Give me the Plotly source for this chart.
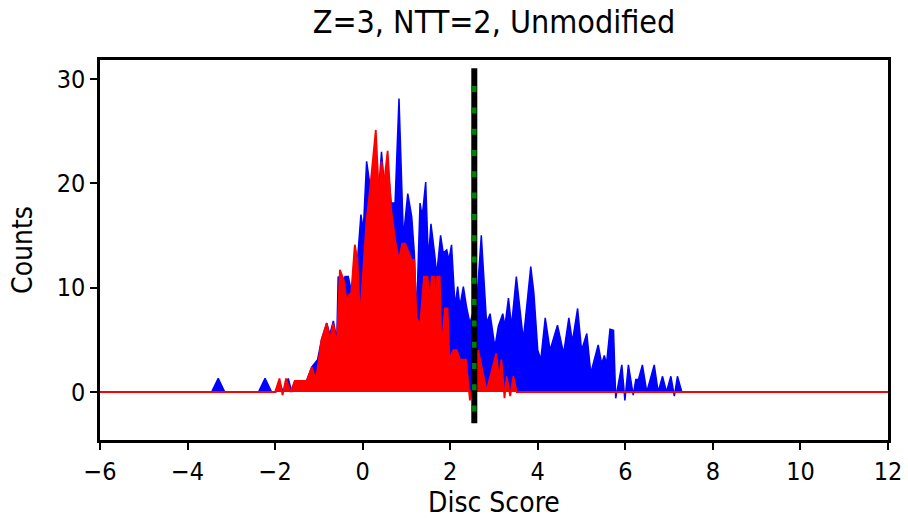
import plotly.graph_objects as go

# Disc score vertices (bin centres) and counts for the two distributions
blue_score = [-6.0, -3.45, -3.30, -3.15, -2.38, -2.23, -2.08, -1.98, -1.90, -1.82, -1.70, -1.62,
              -1.55, -1.42, -1.36, -1.28, -1.16, -1.03, -0.94, -0.82, -0.75, -0.67, -0.59, -0.56,
              -0.48, -0.40, -0.33, -0.25, -0.18, -0.12, -0.04, 0.015, 0.09, 0.17, 0.21, 0.30,
              0.38, 0.43, 0.49, 0.57, 0.65, 0.74, 0.83, 0.93, 1.03, 1.12, 1.18, 1.23, 1.31, 1.36,
              1.44, 1.50, 1.56, 1.65, 1.69, 1.78, 1.84, 1.92, 1.97, 2.03, 2.11, 2.17, 2.22, 2.30,
              2.37, 2.45, 2.55, 2.63, 2.71, 2.83, 2.91, 3.02, 3.10, 3.20, 3.25, 3.33, 3.40, 3.51,
              3.67, 3.84, 3.91, 4.00, 4.07, 4.17, 4.28, 4.45, 4.59, 4.71, 4.79, 4.91, 5.00, 5.12,
              5.21, 5.38, 5.46, 5.52, 5.57, 5.65, 5.73, 5.78, 5.92, 5.99, 6.07, 6.18, 6.24, 6.30,
              6.39, 6.49, 6.66, 6.75, 6.85, 6.94, 7.04, 7.12, 7.19, 7.29, 12.0]
blue_count = [0, 0, 1.3, 0, 0, 1.3, 0, 0, 1.0, 0, 1.3, 0,
              1.05, 1.05, 0.2, 1.05, 2.4, 3.1, 5.0, 6.6, 5.5, 6.8, 5.0, 11.05,
              10.5, 11.05, 11.05, 9.5, 13.5, 12.5, 17.0, 15.5, 22.1, 19.7, 18.1, 20.0,
              20.0, 23.0, 20.0, 22.0, 18.1, 18.1, 28.1, 14.8, 19.0, 16.8, 13.3, 7.2, 18.1, 16.8,
              20.1, 12.65, 16.1, 13.0, 11.2, 15.0, 13.3, 13.6, 12.65, 14.1, 8.2, 10.1, 8.2, 10.1,
              8.2, 6.6, 8.0, 10.0, 15.0, 6.6, 7.5, 4.3, 6.3, 7.5, 6.3, 9.0, 6.3, 11.05,
              5.0, 12.0, 9.5, 4.0, 3.1, 7.1, 4.0, 6.4, 3.7, 7.1, 4.8, 8.0, 4.0, 5.6,
              1.8, 4.5, 2.7, 3.5, 2.7, 6.0, 5.9, -0.6, 2.6, -0.8, 2.6, -0.3, 1.2, 1.2,
              2.6, 0, 2.6, 0, 1.5, 0, 1.5, -0.4, 1.5, 0, 0]

red_score = [-6.0, -2.00, -1.90, -1.83, -1.75, -1.65, -1.55, -1.28, -1.16, -1.07, -0.94, -0.82,
             -0.75, -0.67, -0.59, -0.52, -0.43, -0.37, -0.31, -0.26, -0.18, -0.12, -0.06, 0.09,
             0.17, 0.30, 0.38, 0.43, 0.49, 0.57, 0.65, 0.74, 0.83, 0.90, 0.97, 1.12, 1.18, 1.23,
             1.31, 1.40, 1.48, 1.53, 1.58, 1.63, 1.66, 1.70, 1.76, 1.80, 1.88, 1.94, 1.98, 2.07,
             2.15, 2.22, 2.36, 2.45, 2.55, 2.64, 2.83, 3.05, 3.12, 3.17, 3.24, 3.29, 3.37, 3.44,
             3.52, 12.0]
red_count = [0, 0, 1.3, -0.3, 1.3, 0, 1.05, 1.05, 2.4, 1.1, 5.0, 6.6,
             5.0, 6.6, 4.3, 11.7, 10.7, 8.8, 9.3, 9.5, 14.1, 12.7, 7.1, 16.5,
             19.5, 25.1, 18.1, 22.1, 20.0, 23.1, 17.5, 14.6, 12.6, 14.2, 14.2, 12.65, 12.65, 7.2,
             6.3, 11.05, 11.05, 8.8, 11.05, 11.05, 8.2, 11.05, 11.05, 4.0, 8.0, 8.0, 3.1, 4.0,
             4.0, 3.1, 3.1, -0.8, 2.0, 4.0, 0.1, 3.7, 1.2, 3.1, -0.6, 1.5, -0.4, 1.5,
             0, 0]

threshold = 2.55
threshold_span = [31.0, -3.0]
threshold_dash_span = [29.3, -3.0]

x_ticks = [-6, -4, -2, 0, 2, 4, 6, 8, 10, 12]
y_ticks = [0, 10, 20, 30]

FONT = "DejaVu Sans Condensed, DejaVu Sans"

fig = go.Figure()
fig.add_trace(go.Scatter(x=blue_score, y=blue_count, mode="lines", fill="tozeroy",
                         line=dict(color="#0000ff", width=1.5), fillcolor="#0000ff",
                         showlegend=False, hoverinfo="skip"))
fig.add_trace(go.Scatter(x=red_score, y=red_count, mode="lines", fill="tozeroy",
                         line=dict(color="#ff0000", width=1.8), fillcolor="#ff0000",
                         showlegend=False, hoverinfo="skip"))
fig.add_trace(go.Scatter(x=[threshold, threshold], y=threshold_span, mode="lines",
                         line=dict(color="black", width=6), showlegend=False, hoverinfo="skip"))
fig.add_trace(go.Scatter(x=[threshold, threshold], y=threshold_dash_span, mode="lines",
                         line=dict(color="#008000", width=4.5, dash="6px,15.3px"),
                         showlegend=False, hoverinfo="skip"))

axis_common = dict(showline=True, linecolor="black", linewidth=2.5, mirror=True,
                   ticks="outside", ticklen=7, tickwidth=2, tickcolor="black",
                   showgrid=False, zeroline=False, automargin=False,
                   tickfont=dict(family=FONT, size=25, color="black"))

fig.update_xaxes(range=[-6, 12], tickvals=x_ticks,
                 ticktext=[str(v).replace("-", "\u2212") for v in x_ticks],
                 **axis_common)
fig.update_yaxes(range=[-4.6, 31.8], tickvals=y_ticks, ticktext=[str(v) for v in y_ticks],
                 title=dict(text="Counts", font=dict(family=FONT, size=28, color="black"), standoff=16),
                 **axis_common)

# x-axis title placed as an annotation so it can sit at the reference position
fig.add_annotation(text="Disc Score", xref="paper", yref="paper", x=0.5, y=-62 / 380,
                   xanchor="center", yanchor="middle", showarrow=False, borderpad=0,
                   font=dict(family=FONT, size=28, color="black"))

fig.update_layout(
    width=908, height=518,
    margin=dict(l=100, r=20, t=60, b=78),
    paper_bgcolor="white", plot_bgcolor="white",
    title=dict(text="Z=3, NTT=2, Unmodified", x=0.5, xref="paper", y=1 - 22 / 518,
               yref="container", yanchor="middle", xanchor="center",
               font=dict(family=FONT, size=32, color="black")),
)

fig.write_html("out.html", config={"displayModeBar": False},
               post_script="document.body.style.margin='0';")
